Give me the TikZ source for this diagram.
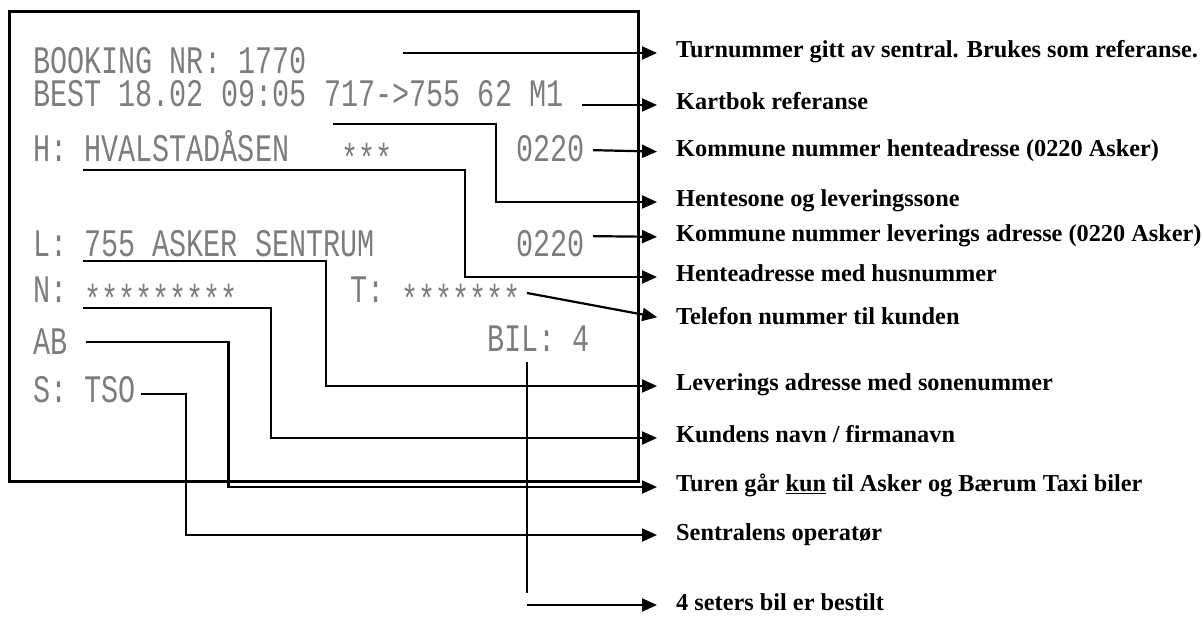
\documentclass[tikz,border=0pt]{standalone}
\usepackage{fontspec}
\setmainfont{Liberation Serif}
\newfontfamily\printfont[FakeStretch=0.73]{Liberation Mono}
\usetikzlibrary{arrows.meta}
\definecolor{inkgray}{RGB}{125,125,125}
\newcommand{\lowstars}[1]{\raisebox{-10pt}{#1}}

\begin{document}
\begin{tikzpicture}[x=1pt,y=-1pt]
\tikzset{
    box/.style={line width=3pt},
    prt/.style={font=\printfont\fontsize{39}{44}\selectfont, text=inkgray, inner sep=0pt, anchor=base west},
    note/.style={font=\bfseries\fontsize{24.3}{28}\selectfont, anchor=west, inner sep=4pt, text height=15pt, text depth=5pt},
    pointer/.style={line width=2.2pt, -{Triangle[length=15pt,width=13pt]}, shorten >=15pt},
    wire/.style={line width=2.2pt}
}
\useasboundingbox (0,0) rectangle (1203,617);

% the printed receipt
\draw[box] (9,12) rectangle (638,482);
\node[prt] (bnr) at (33,74) {BOOKING NR: 1770};
\node[prt] (best) at (33,107) {BEST 18.02 09:05};
\node[prt] (sone) at (324,107) {717->755 62 M1};
\node[prt] (hl) at (33,162) {H:};
\node[prt] (hadr) at (84,162) {HVALSTADÅSEN};
\node[prt] (hst) at (341,162) {\lowstars{***}};
\node[prt, anchor=base east] (hk) at (585,162) {0220};
\node[prt] (ll) at (33,257) {L:};
\node[prt] (ladr) at (84,257) {755 ASKER SENTRUM};
\node[prt, anchor=base east] (lk) at (585,257) {0220};
\node[prt] (nl) at (33,303) {N:};
\node[prt] (navn) at (84,303) {\lowstars{*********}};
\node[prt] (tl) at (350,303) {T:};
\node[prt] (tlf) at (401,303) {\lowstars{*******}};
\node[prt, anchor=base east] (bil) at (590,352) {BIL: 4};
\node[prt] (ab) at (33,355) {AB};
\node[prt] (ts) at (33,403) {S: TSO};

% explanations
\node[note] (lblA) at (672,53) {Turnummer gitt av sentral. Brukes som referanse.};
\node[note] (lblB) at (672,105) {Kartbok referanse};
\node[note] (lblC) at (672,152) {Kommune nummer henteadresse (0220 Asker)};
\node[note] (lblD) at (672,202) {Hentesone og leveringssone};
\node[note] (lblE) at (672,237) {Kommune nummer leverings adresse (0220 Asker)};
\node[note] (lblF) at (672,277) {Henteadresse med husnummer};
\node[note] (lblG) at (672,320) {Telefon nummer til kunden};
\node[note] (lblH) at (672,386) {Leverings adresse med sonenummer};
\node[note] (lblI) at (672,438) {Kundens navn / firmanavn};
\node[note] (lblJ) at (672,487) {Turen går \underline{kun} til Asker og Bærum Taxi biler};
\node[note] (lblK) at (672,535) {Sentralens operatør};
\node[note] (lblL) at (672,605) {4 seters bil er bestilt};

% connectors
\coordinate (tA) at (403,53);
\coordinate (tB) at (582,105);
\coordinate (uD) at (333,124);
\coordinate (uF) at (83,170);
\coordinate (tG) at (527,293);
\coordinate (uH) at (83,261);
\coordinate (uI) at (83,308);
\coordinate (bTop) at (527,362);
\coordinate (bEnd) at (527,593);
\coordinate (tL) at (527,605);
\draw[pointer] (tA) -- (lblA.west);
\draw[pointer] (tB) -- (lblB.west);
\draw[pointer] ([shift={(8,1)}]hk.east) -- (lblC.west);
\draw[pointer] (uD) -- ++(163,0) |- (lblD.west);
\draw[pointer] ([shift={(8,-8)}]lk.east) -- (lblE.west);
\draw[pointer] (uF) -- ++(382,0) |- (lblF.west);
\draw[pointer] (tG) -- (lblG.west);
\draw[pointer] (uH) -- ++(243,0) |- (lblH.west);
\draw[pointer] (uI) -- ++(188,0) |- (lblI.west);
\draw[pointer] ([xshift=18pt]ab.east) -- ++(143,0) |- (lblJ.west);
\draw[pointer] ([shift={(5,4)}]ts.east) -- ++(45,0) |- (lblK.west);
\draw[wire] (bTop) -- (bEnd);
\draw[pointer] (tL) -- (lblL.west);
\end{tikzpicture}
\end{document}
